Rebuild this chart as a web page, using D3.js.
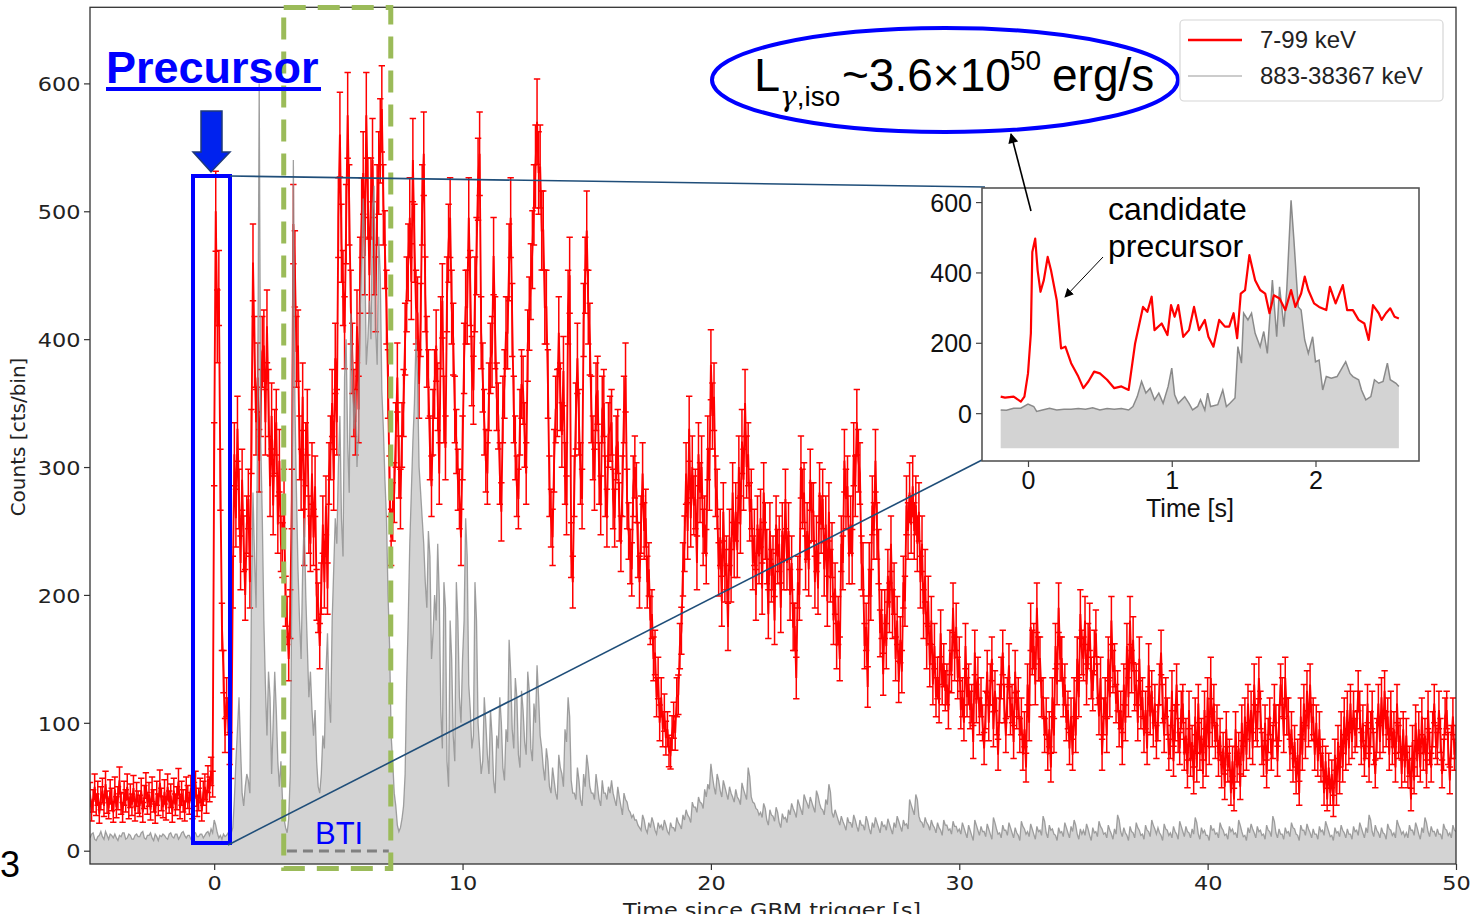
<!DOCTYPE html>
<html><head><meta charset="utf-8">
<script src="https://cdn.jsdelivr.net/npm/d3@7"></script>
<style>
html,body{margin:0;padding:0;background:#fff;overflow:hidden}
svg{display:block}
</style></head>
<body>
<svg id="chart" width="1472" height="914"></svg>
<script>
// Light curve, 0.0625 s bins starting at t = -5 s (one row per second)
const binStart = -5;
const binWidth = 0.0625;

// 7-99 keV counts per bin
const redCounts = [
  44,31,39,50,36,45,29,41,47,35,52,38,33,46,40,30,
  48,34,41,55,37,30,45,39,50,33,43,36,49,31,44,38,
  35,47,30,42,51,37,44,32,48,39,29,45,36,53,40,34,
  46,32,50,38,43,30,47,36,41,54,33,45,39,31,48,42,
  37,49,33,44,52,35,40,47,31,45,50,38,56,48,62,52,
  310,500,410,440,290,175,140,90,120,105,80,68,210,310,260,330,
  275,225,290,240,200,255,275,210,320,460,390,335,370,305,350,390,
  395,335,410,350,285,340,270,320,335,255,305,240,235,275,195,180,
  150,185,275,490,455,390,395,315,290,355,245,310,335,255,240,295,
  245,285,200,190,160,205,255,210,270,205,295,315,350,290,385,335,
  495,560,475,440,405,490,575,505,425,385,350,335,410,345,450,495,
  530,465,575,510,450,510,540,465,435,505,530,555,580,505,470,425,
  365,285,245,265,280,325,370,300,275,325,350,400,435,460,495,445,
  540,475,425,420,365,415,505,545,435,390,365,315,285,335,365,395,
  355,295,405,430,345,315,435,475,495,425,400,345,320,290,275,245,
  315,385,425,425,495,440,375,360,435,465,525,545,405,370,335,305,
  295,355,385,390,465,405,355,340,295,265,345,365,405,405,460,495,
  415,345,315,285,275,335,365,360,325,295,395,420,445,470,505,535,
  570,530,535,485,485,425,425,365,285,260,245,305,345,350,405,355,
  325,375,295,270,425,450,235,210,285,340,385,335,295,275,415,450,
  485,425,400,345,315,290,355,360,295,270,345,350,285,260,325,330,
  335,275,260,315,320,265,240,285,345,370,275,250,230,220,285,300,
  280,235,210,255,295,250,260,210,220,180,185,150,155,120,135,100,
  120,95,108,88,95,78,76,92,102,92,120,122,160,172,220,240,
  295,250,330,260,300,270,275,225,310,280,300,245,255,230,315,290,
  380,340,355,285,275,220,245,195,265,215,225,175,245,215,280,235,
  265,235,300,255,320,290,350,300,310,265,275,225,245,200,255,230,
  260,205,280,250,230,185,250,215,225,180,255,230,240,190,250,225,
  275,225,250,200,225,175,175,135,210,200,300,275,280,225,250,220,
  290,265,265,210,240,205,280,255,275,220,255,195,265,215,235,180,
  205,160,180,150,240,225,305,275,285,230,255,230,310,285,335,305,
  295,225,220,160,175,128,220,200,270,250,305,250,230,170,185,138,
  185,160,215,190,240,185,205,150,180,132,165,140,210,195,270,250,
  280,255,285,250,270,240,265,210,240,185,215,160,195,145,180,130,
  160,120,135,115,170,130,145,125,130,110,155,140,190,150,175,135,
  150,110,120,100,160,120,130,110,115,85,155,115,135,105,120,100,
  80,110,140,100,130,150,95,125,105,75,115,135,155,115,90,120,
  145,105,115,85,140,110,120,90,105,75,95,65,130,100,175,155,
  160,130,190,150,150,120,120,90,105,75,95,65,120,90,160,130,
  190,150,150,120,130,100,110,80,105,75,120,90,150,120,185,155,
  150,180,130,160,175,135,125,155,170,130,105,135,75,105,120,90,
  150,120,180,140,145,115,125,95,110,80,130,100,160,120,180,140,
  165,125,130,100,150,110,120,90,110,80,145,105,125,95,115,85,
  100,130,155,115,90,120,105,75,85,125,70,100,130,90,80,110,
  115,75,90,60,110,70,85,55,105,65,115,75,90,60,110,70,
  120,80,135,95,115,85,100,70,90,60,80,50,95,65,75,45,
  70,40,95,65,80,50,100,70,105,75,115,85,110,80,130,100,
  95,135,110,80,70,100,60,90,105,75,85,115,100,70,100,130,
  120,90,135,105,105,75,95,65,85,55,75,45,105,75,115,85,
  125,95,130,100,105,75,100,70,95,65,75,45,70,40,65,45,
  60,35,75,45,85,55,95,65,105,75,110,80,115,85,110,90,
  95,125,110,80,100,70,85,115,65,95,110,80,60,90,115,85,
  120,90,125,95,105,75,110,80,95,65,115,85,90,60,95,65,
  90,60,70,40,85,55,100,70,95,65,105,75,90,60,110,80,
  65,95,115,85,80,110,90,60,75,105,110,80,55,85,105,75,
  85
];

// 883-38367 keV counts per bin
const grayCounts = [
  10,13,14,9,8,11,12,15,11,9,15,12,9,13,12,10,
  13,10,8,12,11,14,14,9,10,13,12,9,9,12,13,11,
  11,14,15,10,9,12,12,14,10,8,13,11,8,12,11,13,
  12,10,9,13,14,11,10,13,13,9,11,14,15,12,10,12,
  12,9,10,13,14,11,11,13,13,10,12,14,15,12,17,14,
  24,20,14,10,12,9,13,11,12,14,10,14,18,40,70,95,
  120,80,45,35,50,60,55,45,200,280,230,190,340,600,320,260,
  180,130,90,140,120,60,100,140,110,70,50,70,40,25,18,14,
  25,60,200,540,350,280,220,180,150,220,260,200,160,120,140,110,
  90,110,70,50,45,60,90,80,140,170,120,100,180,220,260,240,
  300,340,260,230,370,400,320,280,420,380,330,360,300,330,420,460,
  510,470,380,400,430,400,500,520,410,380,480,450,360,330,290,260,
  200,160,90,70,45,35,20,15,18,25,35,60,130,180,240,280,
  320,350,400,370,300,280,260,240,210,190,250,230,150,170,200,180,
  240,200,110,80,210,190,70,50,180,150,90,70,210,180,120,100,
  150,180,260,230,130,110,80,90,210,180,100,80,60,70,120,100,
  75,60,110,90,55,45,90,80,120,100,65,55,95,85,165,140,
  95,80,135,120,75,65,125,110,85,75,140,125,80,70,115,100,
  145,120,90,80,65,55,80,70,50,45,65,55,45,40,75,65,
  60,50,95,85,120,105,55,45,45,40,65,55,40,35,60,50,
  75,65,50,45,45,40,60,50,40,35,55,45,45,40,50,45,
  55,45,40,35,50,42,35,28,45,40,38,32,30,26,28,24,
  24,20,18,16,28,24,17,14,22,18,26,22,16,13,22,18,
  20,16,24,20,15,13,22,18,18,15,26,22,20,17,28,24,
  32,28,26,22,38,34,34,30,42,38,37,33,48,42,52,48,
  68,58,50,44,60,55,47,42,55,50,45,40,50,45,42,38,
  48,42,40,36,53,48,44,40,65,58,42,38,37,33,32,28,
  30,26,37,33,24,20,32,28,27,23,34,30,22,18,29,25,
  26,22,32,28,37,33,30,26,40,36,32,28,44,40,37,33,
  42,38,34,30,47,43,37,33,32,28,40,36,52,46,30,26,
  32,28,24,20,27,23,20,16,26,22,22,18,28,24,19,15,
  24,20,20,16,27,23,17,13,22,18,26,22,18,14,23,19,
  20,16,25,21,17,13,22,18,27,23,19,15,24,20,21,17,
  40,36,32,28,44,40,27,23,22,18,26,22,20,16,24,20,
  18,14,22,18,16,12,24,20,20,16,17,13,23,19,19,15,
  17,13,22,18,14,10,20,16,12,8,24,20,16,12,19,15,
  15,11,21,17,13,9,26,22,17,13,14,10,20,16,16,12,
  22,18,14,10,18,14,12,8,23,19,17,13,15,11,21,17,
  13,9,19,15,16,12,27,23,14,10,20,16,17,13,12,8,
  18,14,15,11,22,18,14,10,19,15,24,20,13,9,17,13,
  16,12,21,17,12,8,18,14,15,11,23,19,17,13,14,10,
  20,16,13,9,17,13,28,24,15,11,18,14,12,8,19,15,
  14,10,22,18,16,12,13,9,20,16,15,11,24,20,17,13,
  18,14,12,8,21,17,16,12,14,10,19,15,13,9,23,19,
  15,11,19,15,14,10,17,13,26,22,13,9,18,14,16,12,
  12,8,20,16,17,13,14,10,22,18,16,12,13,9,19,15,
  17,13,14,10,24,20,15,11,12,8,18,14,21,17,14,10,
  19,15,16,12,13,9,20,16,15,11,27,23,14,10,17,13,
  13,9,18,14,15,11,22,18,17,13,12,8,20,16,16,12,
  21,17,14,10,17,13,13,9,19,15,16,12,23,19,15,11,
  12,8,18,14,15,11,20,16,14,10,17,13,13,9,19,15,
  16,12,22,18,14,10,18,14,28,24,15,11,20,16,14,10,
  18,14,13,9,21,17,16,12,14,10,24,20,17,13,15,11,
  14,10,20,16,16,12,22,18,13,9,18,14,26,22,15,11,
  19,15,15,11,17,13,13,9,21,17,16,12,14,10,20,16,
  15
];

// Zoomed view of the first seconds
const insetRedTime = [-0.19,-0.16,-0.1,-0.05,-0.025,0,0.02,0.03,0.05,0.067,0.087,0.11,0.137,0.16,0.2,0.23,0.26,0.3,0.35,0.385,0.42,0.46,0.5,0.55,0.6,0.65,0.7,0.745,0.8,0.83,0.86,0.88,0.93,0.97,0.995,1.02,1.045,1.08,1.12,1.155,1.19,1.23,1.255,1.29,1.33,1.37,1.4,1.43,1.455,1.48,1.51,1.54,1.58,1.615,1.65,1.68,1.71,1.75,1.79,1.83,1.86,1.9,1.925,1.95,1.99,2.025,2.075,2.1,2.14,2.19,2.22,2.26,2.3,2.34,2.37,2.4,2.44,2.46,2.49,2.52,2.55,2.58];
const insetRedCounts = [47,44,47,33,47,113,227,458,496,406,345,378,444,406,321,184,189,142,104,71,90,118,113,95,71,76,66,198,302,288,331,236,255,222,307,274,307,217,236,302,236,265,217,189,265,246,246,284,213,340,350,449,378,350,340,284,335,326,293,350,302,340,388,350,312,302,293,359,312,364,293,293,265,255,208,307,284,265,284,298,274,269];
const insetGrayTime = [-0.19,-0.15,-0.1,-0.05,0,0.04,0.06,0.1,0.15,0.2,0.25,0.3,0.35,0.4,0.45,0.5,0.55,0.6,0.65,0.7,0.73,0.76,0.79,0.82,0.85,0.88,0.91,0.94,0.975,1.0,1.02,1.045,1.09,1.12,1.145,1.18,1.2,1.23,1.25,1.27,1.32,1.355,1.38,1.405,1.44,1.46,1.485,1.5,1.53,1.555,1.58,1.615,1.64,1.665,1.7,1.73,1.75,1.78,1.8,1.83,1.85,1.88,1.9,1.925,1.95,1.98,2.0,2.025,2.05,2.075,2.11,2.15,2.19,2.21,2.24,2.26,2.3,2.32,2.35,2.385,2.41,2.44,2.47,2.5,2.52,2.56,2.58];
const insetGrayCounts = [9,8,14,14,26,19,5,9,14,9,11,11,13,11,15,9,13,11,13,9,19,47,90,57,71,38,57,28,76,128,52,28,47,28,9,19,38,9,57,19,24,66,19,28,43,189,142,284,265,284,227,189,232,170,378,217,359,246,350,605,491,302,293,208,170,217,146,151,66,104,99,104,132,146,113,104,95,66,38,47,95,85,90,142,95,85,76];

const mainXTicks = [0,10,20,30,40,50];
const mainYTicks = [0,100,200,300,400,500,600];
const insetXTicks = [0,1,2];
const insetYTicks = [0,200,400,600];
const legendLabels = ["7-99 keV","883-38367 keV"];

const DEJAVU = "'DejaVu Sans', sans-serif";
const ARIAL = "'Liberation Sans', Arial, sans-serif";

const svg = d3.select("#chart");
const defs = svg.append("defs");

// ---------- main light curve ----------
const x = d3.scaleLinear().domain([-5, 50]).range([90, 1456]);
const y = d3.scaleLinear().domain([-10.4, 659.5]).range([864, 7.3]);

const redData = redCounts.map((c, i) => ({t: binStart + i * binWidth, c}));
const grayData = grayCounts.map((c, i) => ({t: binStart + i * binWidth, c}));

defs.append("clipPath").attr("id", "plotClip")
  .append("rect").attr("x", 90).attr("y", 7.3).attr("width", 1366).attr("height", 856.7);

const plot = svg.append("g").attr("clip-path", "url(#plotClip)");

// high-energy band: filled area
plot.append("path").datum(grayData)
  .attr("fill", "#d3d3d3")
  .attr("d", d3.area().x(d => x(d.t)).y0(y(-10.4)).y1(d => y(d.c)));

// low-energy band: error bars (1.4 x Poisson) and connecting line
const cap = 3.2;
plot.append("g").selectAll("path").data(redData).join("path")
  .attr("fill", "none").attr("stroke", "#ff0000").attr("stroke-width", 1.5)
  .attr("d", d => {
    const e = 1.4 * Math.sqrt(d.c);
    const px = x(d.t), y0 = y(d.c - e), y1 = y(d.c + e);
    return `M${px},${y0}V${y1}M${px - cap},${y1}H${px + cap}M${px - cap},${y0}H${px + cap}`;
  });
plot.append("path").datum(redData)
  .attr("fill", "none").attr("stroke", "#ff0000").attr("stroke-width", 1.9)
  .attr("d", d3.line().x(d => x(d.t)).y(d => y(d.c)));

// high-energy band outline
plot.append("path").datum(grayData)
  .attr("fill", "none").attr("stroke", "#8f8f8f").attr("stroke-width", 1.3).attr("opacity", 0.85)
  .attr("d", d3.line().x(d => x(d.t)).y(d => y(d.c)));

// axes
const xAxis = svg.append("g").attr("transform", "translate(0,864)")
  .call(d3.axisBottom(x).tickValues(mainXTicks).tickSize(6).tickFormat(d3.format("d")));
const yAxis = svg.append("g").attr("transform", "translate(90,0)")
  .call(d3.axisLeft(y).tickValues(mainYTicks).tickSize(6).tickFormat(d3.format("d")));
[xAxis, yAxis].forEach(a => {
  a.select(".domain").remove();
  a.selectAll(".tick line").attr("stroke", "#333").attr("stroke-width", 1.2);
  a.selectAll(".tick text").attr("fill", "#222").style("font-family", DEJAVU).style("font-size", "20px")
    .attr("transform", "scale(1.12,1)");
});
xAxis.selectAll(".tick text").attr("y", 26).attr("dy", 0);
yAxis.selectAll(".tick text").attr("x", -8.5).attr("dy", "0.36em");

svg.append("rect").attr("x", 90).attr("y", 7.3).attr("width", 1366).attr("height", 856.7)
  .attr("fill", "none").attr("stroke", "#333").attr("stroke-width", 1.3);

svg.append("g").attr("transform", "translate(772,917)")
  .append("text").attr("text-anchor", "middle").attr("transform", "scale(1.12,1)")
  .style("font-family", DEJAVU).style("font-size", "20px").attr("fill", "#222")
  .text("Time since GBM trigger [s]");
svg.append("text").attr("transform", "translate(25,437) rotate(-90)").attr("text-anchor", "middle")
  .style("font-family", DEJAVU).style("font-size", "20px").attr("fill", "#222")
  .text("Counts [cts/bin]");

svg.append("text").attr("x", 0).attr("y", 877).style("font-family", ARIAL).style("font-size", "36px")
  .attr("fill", "#000").text("3");

// ---------- burst time interval ----------
svg.append("rect").attr("x", x(2.80)).attr("y", 7.5).attr("width", x(7.11) - x(2.80)).attr("height", 861)
  .attr("fill", "none").attr("stroke", "#9bbb59").attr("stroke-width", 5).attr("stroke-dasharray", "22,12");
svg.append("line").attr("x1", x(2.93)).attr("x2", x(7.03)).attr("y1", 851).attr("y2", 851)
  .attr("stroke", "#808080").attr("stroke-width", 3).attr("stroke-dasharray", "10,6");
svg.append("text").attr("x", 315).attr("y", 844).style("font-family", ARIAL).style("font-size", "31px")
  .attr("fill", "#0000ff").text("BTI");

// ---------- precursor marker ----------
svg.append("text").attr("x", 106).attr("y", 83).style("font-family", ARIAL).style("font-size", "45px")
  .style("font-weight", "bold").attr("fill", "#0000ff").text("Precursor");
svg.append("rect").attr("x", 106).attr("y", 87).attr("width", 215).attr("height", 4).attr("fill", "#0000ff");
svg.append("path").attr("d", "M201,111H222V152H230L211,172L193,152H201Z")
  .attr("fill", "#0022ee").attr("stroke", "#1f3a7a").attr("stroke-width", 1.5);
svg.append("rect").attr("x", 193).attr("y", 176).attr("width", 37).attr("height", 667)
  .attr("fill", "none").attr("stroke", "#0000ff").attr("stroke-width", 4);

// zoom connectors
svg.append("line").attr("x1", 230).attr("y1", 176).attr("x2", 985).attr("y2", 187)
  .attr("stroke", "#1f4e79").attr("stroke-width", 1.6);
svg.append("line").attr("x1", 228).attr("y1", 845).attr("x2", 982).attr("y2", 460)
  .attr("stroke", "#1f4e79").attr("stroke-width", 1.6);

// ---------- inset ----------
const xi = d3.scaleLinear().domain([-0.32, 2.72]).range([982, 1419]);
const yi = d3.scaleLinear().domain([-136, 640]).range([461, 188]);
svg.append("rect").attr("x", 982).attr("y", 188).attr("width", 437).attr("height", 273)
  .attr("fill", "#fff");
const insetGray = insetGrayTime.map((t, i) => ({t, c: insetGrayCounts[i]}));
const insetRed = insetRedTime.map((t, i) => ({t, c: insetRedCounts[i]}));
svg.append("path").datum(insetGray).attr("fill", "#d3d3d3")
  .attr("d", d3.area().x(d => xi(d.t)).y0(yi(-100)).y1(d => yi(d.c)));
svg.append("path").datum(insetGray).attr("fill", "none").attr("stroke", "#8a8a8a").attr("stroke-width", 1.5)
  .attr("d", d3.line().x(d => xi(d.t)).y(d => yi(d.c)));
svg.append("path").datum(insetRed).attr("fill", "none").attr("stroke", "#ff0000").attr("stroke-width", 2.2)
  .attr("stroke-linejoin", "round")
  .attr("d", d3.line().x(d => xi(d.t)).y(d => yi(d.c)));
svg.append("rect").attr("x", 982).attr("y", 188).attr("width", 437).attr("height", 273)
  .attr("fill", "none").attr("stroke", "#555").attr("stroke-width", 1.6);

const xiAxis = svg.append("g").attr("transform", "translate(0,461)")
  .call(d3.axisBottom(xi).tickValues(insetXTicks).tickSize(6).tickFormat(d3.format("d")));
const yiAxis = svg.append("g").attr("transform", "translate(982,0)")
  .call(d3.axisLeft(yi).tickValues(insetYTicks).tickSize(6).tickFormat(d3.format("d")));
[xiAxis, yiAxis].forEach(a => {
  a.select(".domain").remove();
  a.selectAll(".tick line").attr("stroke", "#444").attr("stroke-width", 1.2);
  a.selectAll(".tick text").attr("fill", "#111").style("font-family", ARIAL).style("font-size", "25px");
});
xiAxis.selectAll(".tick text").attr("y", 28).attr("dy", 0);
yiAxis.selectAll(".tick text").attr("x", -10).attr("dy", "0.36em");
svg.append("text").attr("x", 1190).attr("y", 517).attr("text-anchor", "middle")
  .style("font-family", ARIAL).style("font-size", "25px").attr("fill", "#111").text("Time [s]");

svg.append("text").attr("x", 1108).attr("y", 220).style("font-family", ARIAL).style("font-size", "32px")
  .attr("fill", "#000").text("candidate");
svg.append("text").attr("x", 1108).attr("y", 257).style("font-family", ARIAL).style("font-size", "32px")
  .attr("fill", "#000").text("precursor");

// arrows
defs.append("marker").attr("id", "arrowHead").attr("viewBox", "0 0 10 10").attr("refX", 9).attr("refY", 5)
  .attr("markerWidth", 9).attr("markerHeight", 9).attr("markerUnits", "userSpaceOnUse").attr("orient", "auto")
  .append("path").attr("d", "M0,0L10,5L0,10Z").attr("fill", "#000");
defs.append("marker").attr("id", "arrowHeadBig").attr("viewBox", "0 0 10 10").attr("refX", 9).attr("refY", 5)
  .attr("markerWidth", 12).attr("markerHeight", 10).attr("markerUnits", "userSpaceOnUse").attr("orient", "auto")
  .append("path").attr("d", "M0,0L10,5L0,10Z").attr("fill", "#000");
svg.append("line").attr("x1", 1103).attr("y1", 257).attr("x2", 1065).attr("y2", 297)
  .attr("stroke", "#000").attr("stroke-width", 1).attr("marker-end", "url(#arrowHead)");
svg.append("line").attr("x1", 1031).attr("y1", 211).attr("x2", 1011).attr("y2", 134)
  .attr("stroke", "#000").attr("stroke-width", 1.6).attr("marker-end", "url(#arrowHeadBig)");

// ---------- luminosity callout ----------
svg.append("ellipse").attr("cx", 945).attr("cy", 80).attr("rx", 233).attr("ry", 52)
  .attr("fill", "none").attr("stroke", "#0000ff").attr("stroke-width", 4);
const lum = svg.append("g").style("font-family", ARIAL).attr("fill", "#000");
lum.append("text").attr("x", 754).attr("y", 91).style("font-size", "47px").text("L");
lum.append("text").attr("x", 780).attr("y", 106).style("font-size", "28px")
  .call(t => {
    t.append("tspan").style("font-family", "'DejaVu Serif', serif").style("font-style", "italic").text("γ");
    t.append("tspan").text(",iso");
  });
lum.append("text").attr("x", 842).attr("y", 91).style("font-size", "46px").text("~3.6×10");
lum.append("text").attr("x", 1010).attr("y", 70).style("font-size", "28px").text("50");
lum.append("text").attr("x", 1052).attr("y", 91).style("font-size", "46px").text("erg/s");

// ---------- legend ----------
const leg = svg.append("g");
leg.append("rect").attr("x", 1180).attr("y", 20).attr("width", 263).attr("height", 81).attr("rx", 4)
  .attr("fill", "#fff").attr("stroke", "#d6d6d6").attr("stroke-width", 1.2);
const legColors = ["#ff0000", "#cccccc"];
const legWidths = [2.5, 2];
legendLabels.forEach((lab, i) => {
  const ly = 40 + i * 36;
  leg.append("line").attr("x1", 1188).attr("x2", 1242).attr("y1", ly).attr("y2", ly)
    .attr("stroke", legColors[i]).attr("stroke-width", legWidths[i]);
  leg.append("text").attr("x", 1260).attr("y", ly + 8).style("font-family", ARIAL).style("font-size", "24px")
    .attr("fill", "#222").text(lab);
});
</script>
</body></html>
